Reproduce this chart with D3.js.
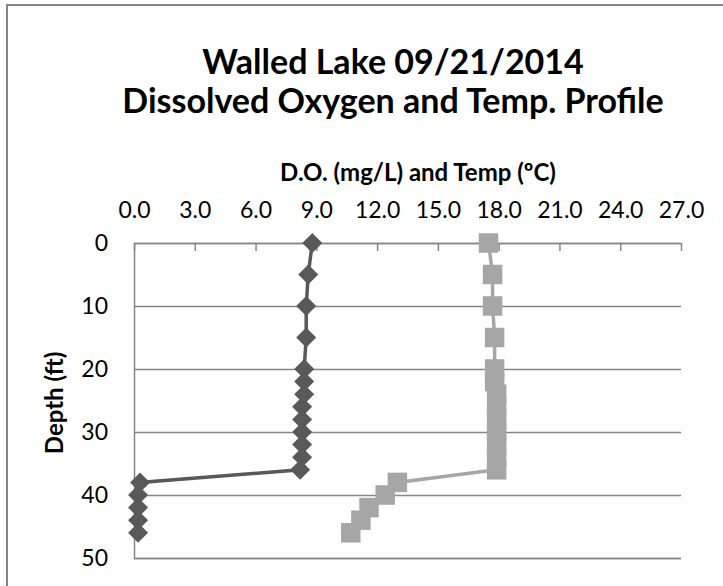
<!DOCTYPE html>
<html>
<head>
<meta charset="utf-8">
<script src="https://cdn.jsdelivr.net/npm/d3@7/dist/d3.min.js"></script>
<style>
  body { margin: 0; background: #fff; }
  svg { display: block; font-family: Lato, "Open Sans", sans-serif; }
</style>
</head>
<body>
<svg id="chart" width="723" height="586"></svg>
<script>
// depth profile readings (ft), D.O. (mg/L), temperature (ºC)
var depths = [0, 5, 10, 15, 20, 22, 24, 26, 28, 30, 32, 34, 36, 38, 40, 42, 44, 46]
var doValues = [8.8, 8.6, 8.5, 8.5, 8.4, 8.4, 8.4, 8.3, 8.3, 8.3, 8.3, 8.3, 8.2, 0.3, 0.2, 0.2, 0.2, 0.2]
var tempValues = [17.5, 17.7, 17.7, 17.8, 17.8, 17.8, 17.9, 17.9, 17.9, 17.9, 17.9, 17.9, 17.9, 13.0, 12.4, 11.6, 11.2, 10.7]
var xTicks = [0, 3, 6, 9, 12, 15, 18, 21, 24, 27]
var yTicks = [0, 10, 20, 30, 40, 50]

var plot = {left: 134, right: 681, top: 243, bottom: 558}
var gridColour = "#868686"

var svg = d3.select("#chart")

// chart area border (runs off the window on right and bottom)
svg.append("rect")
  .attr("x", 7).attr("y", 5)
  .attr("width", 760).attr("height", 640)
  .attr("fill", "#fff")
  .attr("stroke", gridColour)
  .attr("stroke-width", 2)

var xScale = d3.scaleLinear().domain([0, 27]).range([plot.left, plot.right])
var yScale = d3.scaleLinear().domain([0, 50]).range([plot.top, plot.bottom])

// horizontal gridlines + depth labels
var gy = svg.append("g")
  .attr("transform", "translate(" + plot.left + ",0)")
  .call(d3.axisLeft(yScale).tickValues(yTicks)
    .tickSize(-(plot.right - plot.left)).tickPadding(26).tickFormat(d3.format("d")))
gy.select(".domain").attr("stroke", gridColour).attr("stroke-width", 1.5)
gy.selectAll(".tick line").attr("stroke", gridColour).attr("stroke-width", 1.5)
gy.selectAll(".tick text").attr("font-size", 23).attr("fill", "#000")
  .attr("font-family", "Lato, sans-serif")

// tick marks hanging from the top axis
var gt = svg.append("g")
  .attr("transform", "translate(0," + plot.top + ")")
  .call(d3.axisBottom(xScale).tickValues(xTicks).tickSize(8).tickFormat(""))
gt.select(".domain").remove()
gt.selectAll(".tick line").attr("stroke", gridColour).attr("stroke-width", 1.5)

// top labels
var gx = svg.append("g")
  .attr("transform", "translate(0," + (plot.top - 19) + ")")
  .call(d3.axisTop(xScale).tickValues(xTicks).tickSize(0).tickPadding(6).tickFormat(d3.format(".1f")))
gx.select(".domain").remove()
gx.selectAll(".tick text").attr("font-size", 23).attr("fill", "#000")
  .attr("font-family", "Lato, sans-serif")

// titles
svg.append("text")
  .attr("x", 393).attr("y", 74)
  .attr("text-anchor", "middle")
  .attr("font-size", 34).attr("font-weight", "bold")
  .text("Walled Lake 09/21/2014")
svg.append("text")
  .attr("x", 393).attr("y", 113)
  .attr("text-anchor", "middle")
  .attr("font-size", 34).attr("font-weight", "bold")
  .text("Dissolved Oxygen and Temp. Profile")
svg.append("text")
  .attr("x", 418).attr("y", 181)
  .attr("text-anchor", "middle")
  .attr("font-size", 24).attr("font-weight", "bold")
  .text("D.O. (mg/L) and Temp (ºC)")
svg.append("text")
  .attr("transform", "translate(63,403) rotate(-90)")
  .attr("text-anchor", "middle")
  .attr("font-size", 24).attr("font-weight", "bold")
  .text("Depth (ft)")

function drawSeries(values, colour, shape, size, rot) {
  var pts = depths.map(function(d, i) { return {depth: d, v: values[i]} })
  var line = d3.line()
    .x(function(d) { return xScale(d.v) })
    .y(function(d) { return yScale(d.depth) })
  svg.append("path")
    .datum(pts)
    .attr("d", line)
    .attr("fill", "none")
    .attr("stroke", colour)
    .attr("stroke-width", 3.5)
  svg.append("g").selectAll("path")
    .data(pts)
    .enter().append("path")
    .attr("d", d3.symbol().type(shape).size(size))
    .attr("transform", function(d) {
      return "translate(" + xScale(d.v) + "," + yScale(d.depth) + ") rotate(" + rot + ")"
    })
    .attr("fill", colour)
}

drawSeries(tempValues, "#a6a6a6", d3.symbolSquare, 380, 0)
drawSeries(doValues, "#595959", d3.symbolSquare, 200, 45)
</script>
</body>
</html>
